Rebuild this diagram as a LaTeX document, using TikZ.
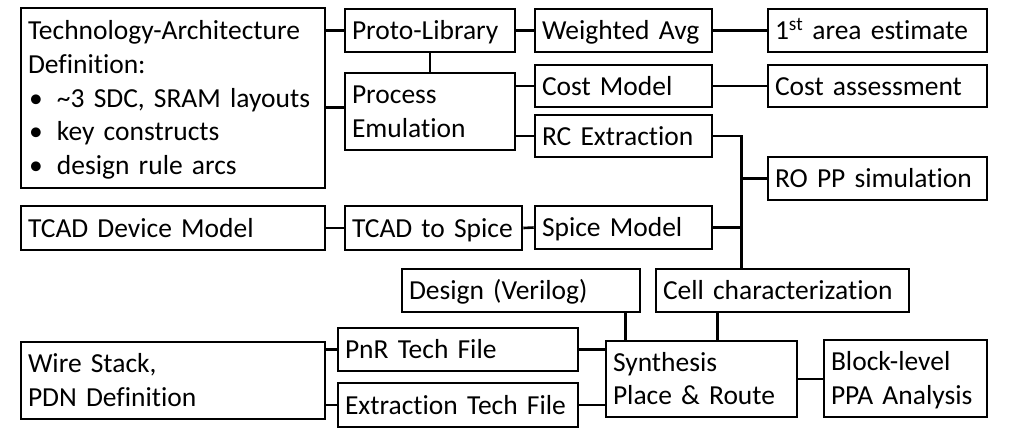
\documentclass[tikz,border=0pt]{standalone}
\usepackage{fontspec}
\setmainfont{Carlito}[Ligatures=NoCommon]
\usetikzlibrary{positioning,calc}

\newcommand{\bulletItem}[1]{\makebox[29pt][l]{\hspace{1pt}\textbullet}#1}
\newcommand{\lineStrut}{\rule[-7pt]{0pt}{32pt}}

\begin{document}
\begin{tikzpicture}[x=1pt, y=-1pt,
  font=\fontsize{27.5}{33.7}\selectfont,
  flowBox/.style 2 args={draw, line width=2.6pt, inner xsep=7pt, inner ysep=0pt,
               text width=#1, minimum height=#2, align=left,
               execute at begin node=\lineStrut, execute at end node=\lineStrut},
  lnk/.style={line width=2.6pt},
]
\useasboundingbox (0,0) rectangle (1009,432);

% top block
\node[flowBox={290pt}{180pt}] (ta) at (173,98) {Technology-Architecture\\Definition:\\
  \bulletItem{\textasciitilde3 SDC, SRAM layouts}\\\bulletItem{key constructs}\\\bulletItem{design rule arcs}};
\node[flowBox={156pt}{43pt}] (pl) at (430,30.5) {Proto-Library};
\node[flowBox={156pt}{77pt}] (pe) at (430,111.5) {Process\\Emulation};
\node[flowBox={163pt}{43pt}] (wa) at (623.5,30.5) {Weighted Avg};
\node[flowBox={163pt}{42pt}] (cm) at (623.5,86) {Cost Model};
\node[flowBox={163pt}{42pt}] (rc) at (623.5,136) {RC Extraction};
\node[flowBox={205pt}{43pt}] (ae) at (877.5,30.5) {1\textsuperscript{st} area estimate};
\node[flowBox={205pt}{42pt}] (ca) at (877.5,86) {Cost assessment};
\node[flowBox={205pt}{43pt}] (ro) at (877.5,178.5) {RO PP simulation};

% device model row
\node[flowBox={290pt}{44pt}] (td) at (173,228) {TCAD Device Model};
\node[flowBox={163pt}{44pt}] (ts) at (433.5,228) {TCAD to Spice};
\node[flowBox={163pt}{43pt}] (sm) at (623.5,227.5) {Spice Model};

% bottom block
\node[flowBox={224pt}{43pt}] (dv) at (521,290.5) {Design (Verilog)};
\node[flowBox={239pt}{43pt}] (cc) at (782.5,290.5) {Cell characterization};
\node[flowBox={226pt}{43pt}] (pn) at (458,349.5) {PnR Tech File};
\node[flowBox={226pt}{44pt}] (et) at (458,405) {Extraction Tech File};
\node[flowBox={290pt}{77pt}] (ws) at (173,380.5) {Wire Stack,\\PDN Definition};
\node[flowBox={177pt}{76pt}] (sy) at (701.5,379) {Synthesis\\Place \& Route};
\node[flowBox={149pt}{77pt}] (bl) at (905.5,378.5) {Block-level\\PPA Analysis};

\coordinate (bus) at ([xshift=28pt]rc.east);
\coordinate (peIn) at ([yshift=4pt]pe.west);

\draw[lnk] (ta.east |- pl.west) -- (pl.west);
\draw[lnk] (ta.east |- peIn) -- (peIn);
\draw[lnk] (pl.south) -- (pe.north);
\draw[lnk] (pl.east) -- (wa.west);
\draw[lnk] (wa.east) -- (ae.west);
\draw[lnk] (pe.east |- cm.west) -- (cm.west);
\draw[lnk] (pe.east |- rc.west) -- (rc.west);
\draw[lnk] (cm.east) -- (ca.west);
\draw[lnk] (rc.east) -- (bus) -- (bus |- cc.north);
\draw[lnk] (bus |- ro.west) -- (ro.west);
\draw[lnk] (td.east) -- (ts.west);
\draw[lnk] (ts.east) -- (sm.west);
\draw[lnk] (sm.east) -- (bus |- sm.east);
\draw[lnk] ([xshift=21pt]sy.north west) -- ([xshift=21pt]sy.north west |- dv.south);
\draw[lnk] ([xshift=63pt]cc.south west) -- ([xshift=63pt]cc.south west |- sy.north);
\draw[lnk] (ws.east |- pn.west) -- (pn.west);
\draw[lnk] (ws.east |- et.west) -- (et.west);
\draw[lnk] (pn.east) -- (sy.west |- pn.east);
\draw[lnk] (et.east) -- (sy.west |- et.east);
\draw[lnk] (sy.east) -- (bl.west |- sy.east);
\end{tikzpicture}
\end{document}
